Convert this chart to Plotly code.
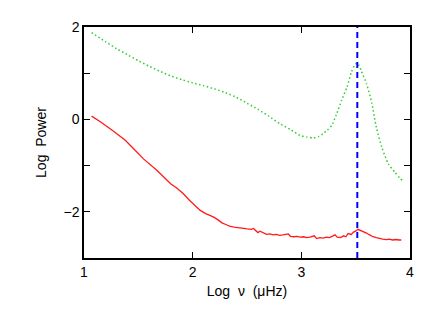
import plotly.graph_objects as go

green_x = [1.07, 1.2, 1.3, 1.4, 1.5, 1.6, 1.7, 1.8, 1.9, 2.0, 2.1, 2.2, 2.3, 2.4, 2.5,
           2.6, 2.7, 2.8, 2.9, 2.99, 3.05, 3.11, 3.16, 3.20, 3.24, 3.28, 3.32, 3.37,
           3.42, 3.46, 3.49, 3.51, 3.53, 3.55, 3.60, 3.65, 3.69, 3.74, 3.80, 3.86, 3.91, 3.93]
green_y = [1.88, 1.68, 1.53, 1.40, 1.27, 1.15, 1.04, 0.94, 0.86, 0.79, 0.73, 0.66, 0.58,
           0.48, 0.35, 0.22, 0.07, -0.09, -0.22, -0.35, -0.38, -0.40, -0.37, -0.31,
           -0.23, -0.13, 0.09, 0.41, 0.70, 1.02, 1.17, 1.22, 1.17, 1.06, 0.77, 0.34,
           -0.17, -0.60, -0.96, -1.14, -1.28, -1.32]

red_x = [1.07, 1.15, 1.25, 1.38, 1.45, 1.55, 1.67, 1.75, 1.80, 1.85, 1.91, 1.97, 2.03,
         2.07, 2.12, 2.16, 2.19, 2.23, 2.27, 2.31, 2.34, 2.38, 2.42, 2.47, 2.50, 2.54,
         2.56, 2.58, 2.60, 2.62, 2.63, 2.65, 2.68, 2.71, 2.74, 2.77, 2.80, 2.83, 2.86,
         2.88, 2.90, 2.93, 2.96, 2.99, 3.02, 3.05, 3.08, 3.10, 3.12, 3.14, 3.17, 3.20,
         3.23, 3.26, 3.29, 3.31, 3.33, 3.36, 3.39, 3.41, 3.43, 3.46, 3.48, 3.50, 3.52,
         3.54, 3.56, 3.58, 3.60, 3.62, 3.64, 3.66, 3.69, 3.72, 3.75, 3.78, 3.81, 3.84,
         3.87, 3.90, 3.92]
red_y = [0.07, -0.05, -0.22, -0.45, -0.62, -0.86, -1.10, -1.28, -1.40, -1.48, -1.60,
         -1.75, -1.88, -1.97, -2.04, -2.08, -2.11, -2.17, -2.24, -2.28, -2.31, -2.33,
         -2.35, -2.36, -2.37, -2.38, -2.36, -2.41, -2.45, -2.42, -2.43, -2.46, -2.49,
         -2.48, -2.50, -2.49, -2.51, -2.50, -2.49, -2.48, -2.53, -2.54, -2.53, -2.55,
         -2.54, -2.56, -2.55, -2.54, -2.52, -2.58, -2.56, -2.57, -2.55, -2.56, -2.53,
         -2.50, -2.55, -2.56, -2.52, -2.54, -2.47, -2.49, -2.44, -2.42, -2.38, -2.40,
         -2.41, -2.43, -2.46, -2.49, -2.52, -2.54, -2.56, -2.58, -2.59, -2.60, -2.59,
         -2.61, -2.60, -2.61, -2.61]

peak_x = 3.515
x_ticks = [1, 2, 3, 4]
y_ticks = [-3, -2, -1, 0, 1, 2]
y_ticktext = ["", "\u22122", "", "0", "", "2"]

fig = go.Figure()
fig.add_trace(go.Scatter(x=green_x, y=green_y, mode="lines",
                         line=dict(color="#33cc33", width=1.5, dash="1.5px,2.5px", shape="spline",
                                   smoothing=0.6)))
fig.add_trace(go.Scatter(x=red_x, y=red_y, mode="lines",
                         line=dict(color="#ff1a1a", width=1.3)))
fig.add_trace(go.Scatter(x=[peak_x, peak_x], y=[-3, 2], mode="lines",
                         line=dict(color="#0000ff", width=2, dash="6px,4px")))

axis_common = dict(showline=True, linecolor="black", linewidth=1.5, mirror="ticks",
                   ticks="inside", ticklen=6, tickwidth=1.2, tickcolor="black",
                   showgrid=False, zeroline=False,
                   tickfont=dict(family="Liberation Sans, Arial", size=14, color="black"))

fig.update_layout(
    width=428, height=304,
    margin=dict(l=76, r=26, t=19, b=54),
    paper_bgcolor="white", plot_bgcolor="white",
    showlegend=False,
    xaxis=dict(range=[1, 4], tickvals=x_ticks, ticktext=[str(v) for v in x_ticks],
               title=dict(text="Log  \u03bd  (\u03bcHz)", standoff=8,
                          font=dict(family="Liberation Sans, Arial", size=14, color="black")),
               **axis_common),
    yaxis=dict(range=[-3, 2], tickvals=y_ticks, ticktext=y_ticktext,
               title=dict(text="Log  Power", standoff=14,
                          font=dict(family="Liberation Sans, Arial", size=14, color="black")),
               **axis_common),
)

fig.write_html("out.html")
